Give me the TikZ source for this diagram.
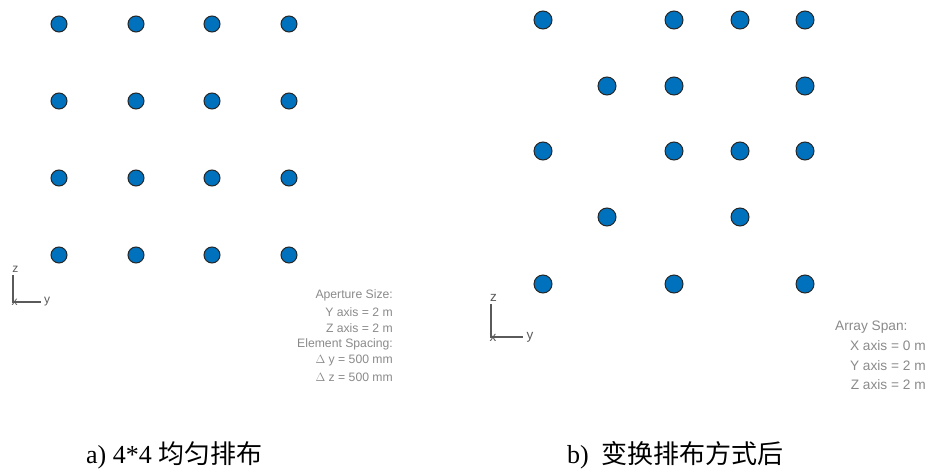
\documentclass[tikz,border=0pt]{standalone}
\usepackage{fontspec}
\setmainfont{Liberation Serif}
\newfontfamily\labfont{Liberation Sans}
\newfontfamily\cjk{Noto Sans CJK SC}
\definecolor{dotblue}{HTML}{0072BD}
\definecolor{txtgray}{HTML}{8A8A8A}
\definecolor{axgray}{HTML}{5A5A5A}
\begin{document}
\begin{tikzpicture}[x=1pt,y=-1pt,
  elem/.style={circle,draw=black!85,line width=1pt,fill=dotblue,minimum size=16pt,inner sep=0pt},
  elemb/.style={elem,minimum size=18pt},
  infotxt/.style={font=\labfont\fontsize{12.2}{14}\selectfont,text=txtgray,anchor=east,inner sep=0pt},
  infotxtb/.style={infotxt,font=\labfont\fontsize{13.7}{16}\selectfont},
  axlbl/.style={font=\labfont\fontsize{12}{14}\selectfont,text=axgray,inner sep=0pt},
  axlblb/.style={axlbl,font=\labfont\fontsize{13.5}{16}\selectfont},
  axline/.style={draw=axgray,line width=1.4pt},
  caption/.style={font=\fontsize{26}{30}\selectfont,anchor=west,inner sep=0pt}]
\useasboundingbox (0,0) rectangle (928,471);
% left array
\foreach \x [count=\i] in {59,136,212,289}{
  \foreach \y [count=\j] in {24,101,178,255}{
    \node[elem] (L\i\j) at (\x,\y) {};
  }
}
% right array
\foreach \x/\y [count=\k] in {543/20,674/20,740/20,805/20,
  607/86,674/86,805/86,
  543/151,674/151,740/151,805/151,
  607/217,740/217,
  543/284,674/284,805/284}{
  \node[elemb] (R\k) at (\x,\y) {};
}
% left axes
\coordinate (lo) at (13,302);
\coordinate (lz) at (13,275);
\coordinate (ly) at (41,302);
\draw[axline] (lz) -- (lo) -- (ly);
\node[axlbl] (lzl) at (15.5,269) {z};
\node[axlbl] (lyl) at (47,302) {y};
\node[axlbl] (lxl) at (14.5,302.5) {x};
% right axes
\coordinate (ro) at (491,337);
\coordinate (rz) at (491,304);
\coordinate (ry) at (523,337);
\draw[axline] (rz) -- (ro) -- (ry);
\node[axlblb] (rzl) at (493.5,298) {z};
\node[axlblb] (ryl) at (530,337.5) {y};
\node[axlblb] (rxl) at (493,338) {x};
% left info
\node[infotxt] (t1) at (393,295) {Aperture Size:};
\node[infotxt] (t2) at (393,312) {Y axis = 2 m};
\node[infotxt] (t3) at (393,328) {Z axis = 2 m};
\node[infotxt] (t4) at (393,344) {Element Spacing:};
\node[infotxt] (t5) at (393,361) {$\Delta$ y = 500 mm};
\node[infotxt] (t6) at (393,377) {$\Delta$ z = 500 mm};
% right info
\node[infotxtb,anchor=west] (s1) at (835,327) {Array Span:};
\node[infotxtb] (s2) at (926,346) {X axis = 0 m};
\node[infotxtb] (s3) at (926,365.5) {Y axis = 2 m};
\node[infotxtb] (s4) at (926,385) {Z axis = 2 m};
% captions
\node[caption] (ca) at (86,455) {a) 4*4 {\cjk 均匀排布}};
\node[caption] (cb) at (567,455) {b)\ \ {\cjk 变换排布方式后}};
\end{tikzpicture}
\end{document}
